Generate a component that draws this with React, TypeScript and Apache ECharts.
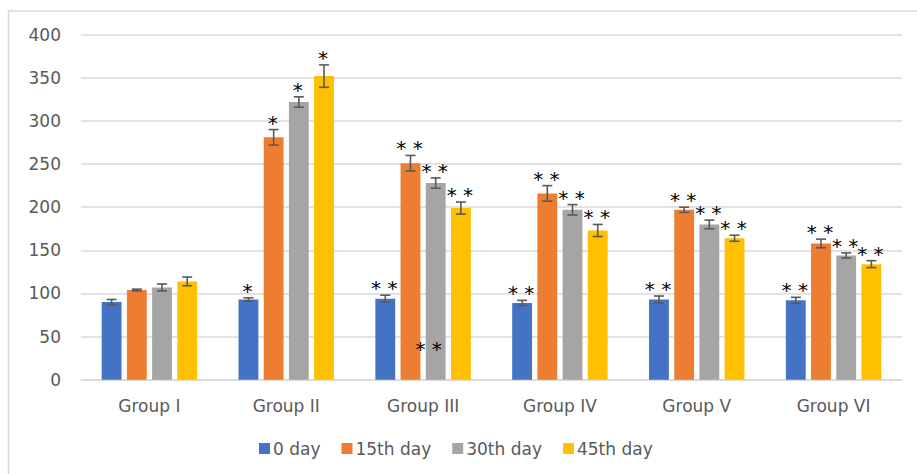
import React, { useEffect, useRef } from "react";
import * as echarts from "echarts";

const categories = ["Group I", "Group II", "Group III", "Group IV", "Group V", "Group VI"];
const seriesNames = ["0 day", "15th day", "30th day", "45th day"];
const colors = ["#4472C4", "#ED7D31", "#A5A5A5", "#FFC000"];

const day0 = [90, 93, 94, 89, 93, 92];
const day15 = [104, 281, 251, 216, 197, 158];
const day30 = [107, 322, 228, 197, 180, 144];
const day45 = [114, 352, 199, 173, 164, 134];

const err0 = [3, 2, 4, 3, 4, 3.5];
const err15 = [1, 9, 9, 9, 3, 5];
const err30 = [4, 6, 6, 6, 5, 3];
const err45 = [5, 13, 7, 7, 3.5, 4];

const stars0 = ["", "*", "* *", "* *", "* *", "* *"];
const stars15 = ["", "*", "* *", "* *", "* *", "* *"];
const stars30 = ["", "*", "* *", "* *", "* *", "* *"];
const stars45 = ["", "*", "* *", "* *", "* *", "* *"];

// extra annotation seen in the figure: [category, series index, value, text]
const extraNotes: [string, number, number, string][] = [["Group III", 2, 37, "* *"]];

const values = [day0, day15, day30, day45];
const errors = [err0, err15, err30, err45];
const stars = [stars0, stars15, stars30, stars45];

const BAR_W = 0.145;
const BAR_GAP = 0.27;

function barOffset(catWidth: number, idx: number) {
  const w = catWidth * BAR_W;
  const step = w * (1 + BAR_GAP);
  const total = 4 * w + 3 * w * BAR_GAP;
  return -total / 2 + w / 2 + idx * step;
}

export default function App() {
  const ref = useRef<HTMLDivElement>(null);
  useEffect(() => {
    if (!ref.current) return;
    const chart = echarts.init(ref.current, undefined, { renderer: "svg" });
    const font = "'DejaVu Sans', sans-serif";
    const starFont = "20px 'DejaVu Sans', sans-serif";

    const errData: any[] = [];
    values.forEach((vals, s) => {
      vals.forEach((v, c) => {
        errData.push([c, v, errors[s][c], s, stars[s][c]]);
      });
    });
    const noteData = extraNotes.map((n) => [categories.indexOf(n[0]), n[2], n[1], n[3]]);

    const barSeries = seriesNames.map((name, s) => ({
      name,
      type: "bar",
      data: values[s],
      barWidth: BAR_W * 100 + "%",
      barGap: BAR_GAP * 100 + "%",
      itemStyle: { color: colors[s] },
      z: 2,
    }));

    chart.setOption({
      animation: false,
      textStyle: { fontFamily: font },
      grid: { left: 81, right: 15, top: 34.7, bottom: 94.3, containLabel: false },
      legend: {
        data: seriesNames,
        left: 254,
        top: 435,
        icon: "rect",
        itemWidth: 11,
        itemHeight: 11,
        itemGap: 21,
        textStyle: { color: "#595959", fontSize: 17, fontFamily: font, padding: [0, 0, 0, -2] },
      },
      xAxis: {
        type: "category",
        data: categories,
        axisLine: { show: true, lineStyle: { color: "#d9d9d9", width: 1.5 } },
        axisTick: { show: false },
        axisLabel: { color: "#595959", fontSize: 17, margin: 18, fontFamily: font },
      },
      yAxis: {
        type: "value",
        min: 0,
        max: 400,
        interval: 50,
        axisLine: { show: false },
        axisTick: { show: false },
        axisLabel: { color: "#595959", fontSize: 17, margin: 20, fontFamily: font },
        splitLine: { lineStyle: { color: "#d9d9d9", width: 1.5 } },
      },
      graphic: [
        {
          type: "rect",
          shape: { x: 8.5, y: 11, width: 930, height: 500 },
          style: { fill: "none", stroke: "#d9d9d9", lineWidth: 1.5 },
          silent: true,
        },
      ],
      series: [
        ...barSeries,
        {
          type: "custom",
          name: "err",
          data: errData,
          encode: { x: 0, y: 1 },
          z: 5,
          renderItem: (params: any, api: any) => {
            const c = api.value(0);
            const v = api.value(1);
            const e = api.value(2);
            const s = api.value(3);
            const txt = errData[params.dataIndex][4];
            const catW = api.size([1, 0])[0];
            const off = barOffset(catW, s);
            const top = api.coord([c, v + e]);
            const bot = api.coord([c, v - e]);
            const x = top[0] + off;
            const cap = 5;
            const st = { stroke: "#595959", lineWidth: 1.6 };
            const children: any[] = [
              { type: "line", shape: { x1: x, y1: top[1], x2: x, y2: bot[1] }, style: st },
              { type: "line", shape: { x1: x - cap, y1: top[1], x2: x + cap, y2: top[1] }, style: st },
              { type: "line", shape: { x1: x - cap, y1: bot[1], x2: x + cap, y2: bot[1] }, style: st },
            ];
            if (txt) {
              children.push({
                type: "text",
                x: x - 1,
                y: top[1] + 3,
                style: {
                  text: txt,
                  fill: "#000",
                  font: starFont,
                  textAlign: "center",
                  textVerticalAlign: "bottom",
                },
              });
            }
            return { type: "group", children };
          },
        },
        {
          type: "custom",
          name: "notes",
          data: noteData,
          encode: { x: 0, y: 1 },
          z: 6,
          renderItem: (params: any, api: any) => {
            const c = api.value(0);
            const v = api.value(1);
            const s = api.value(2);
            const txt = noteData[params.dataIndex][3];
            const catW = api.size([1, 0])[0];
            const pt = api.coord([c, v]);
            return {
              type: "text",
              x: pt[0] + barOffset(catW, s) - 7,
              y: pt[1] + 11,
              style: {
                text: txt,
                fill: "#000",
                font: starFont,
                textAlign: "center",
                textVerticalAlign: "bottom",
              },
            };
          },
        },
      ],
    });
    return () => chart.dispose();
  }, []);
  return (
    <div
      ref={ref}
      style={{ position: "fixed", left: 0, top: 0, width: 917, height: 474, background: "#fff" }}
    />
  );
}
